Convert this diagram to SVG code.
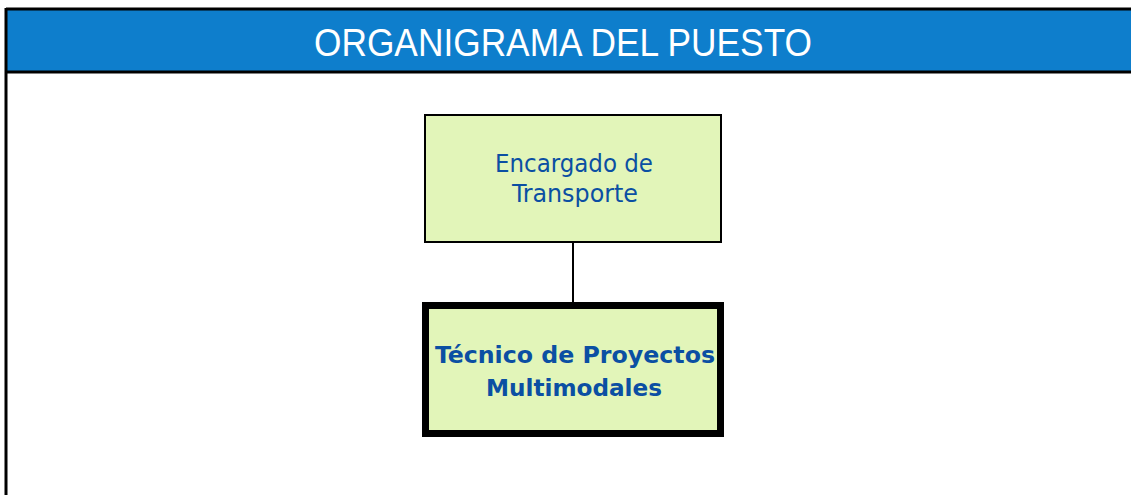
<svg xmlns="http://www.w3.org/2000/svg" width="1131" height="495" viewBox="0 0 1131 495">
<style>
.frame{stroke:#000;stroke-width:3;fill:none}
.box{fill:#e2f5b9;stroke:#000}
.lbl{font-family:"DejaVu Sans Condensed","DejaVu Sans","Liberation Sans",sans-serif;fill:#0b4fa3;text-anchor:middle}
.conn{stroke:#000;stroke-width:2;fill:none}
</style>
<rect x="0" y="0" width="1131" height="495" fill="#fff"/>
<g id="header">
<rect x="6" y="9" width="1126" height="63" fill="#0e7ecc"/>
<line class="frame" x1="6" y1="9" x2="1131" y2="9"/>
<line class="frame" x1="6" y1="72" x2="1131" y2="72"/>
<line class="frame" x1="6" y1="8" x2="6" y2="495"/>
<text x="563" y="56" font-family="'Liberation Sans',Arial,sans-serif" font-size="39" fill="#fff" text-anchor="middle" textLength="498" lengthAdjust="spacingAndGlyphs">ORGANIGRAMA DEL PUESTO</text>
</g>
<g id="connectors">
<line class="conn" x1="573" y1="243" x2="573" y2="302"/>
</g>
<g id="node-encargado">
<rect class="box" x="425" y="115" width="296" height="127" stroke-width="2"/>
<text class="lbl" x="574" y="172" font-size="25" textLength="158" lengthAdjust="spacingAndGlyphs">Encargado de</text>
<text class="lbl" x="575" y="202" font-size="25" textLength="126" lengthAdjust="spacingAndGlyphs">Transporte</text>
</g>
<g id="node-tecnico">
<rect class="box" x="425.5" y="305.5" width="295" height="128" stroke-width="7"/>
<text class="lbl" x="575" y="363" font-size="23" font-weight="bold" textLength="280" lengthAdjust="spacingAndGlyphs">Técnico de Proyectos</text>
<text class="lbl" x="574" y="396" font-size="23" font-weight="bold" textLength="176" lengthAdjust="spacingAndGlyphs">Multimodales</text>
</g>
</svg>
